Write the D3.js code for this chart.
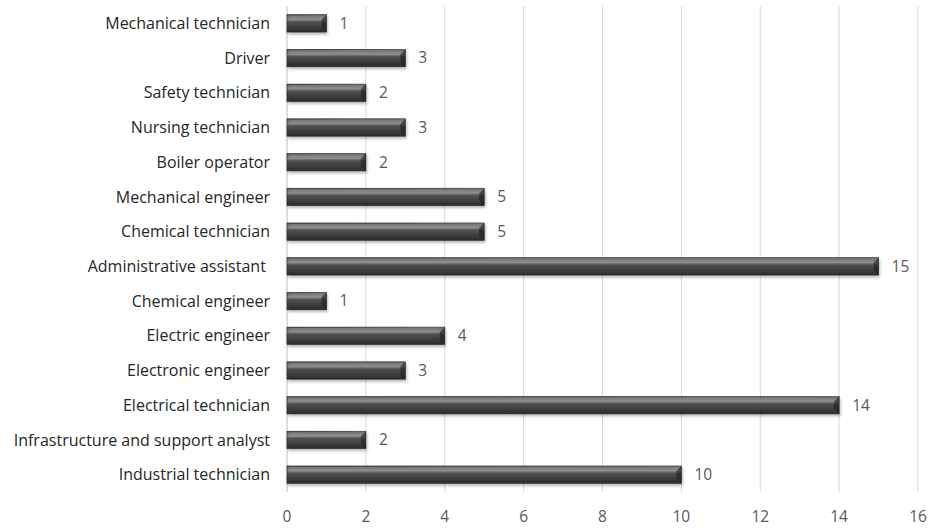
<!DOCTYPE html>
<html>
<head>
<meta charset="utf-8">
<script src="https://cdn.jsdelivr.net/npm/d3@7"></script>
<style>
  html, body { margin: 0; padding: 0; background: #fff; }
  text { font-family: "Open Sans", sans-serif; }
</style>
</head>
<body>
<div id="chart"></div>
<script>
// Données (de haut en bas)
const categories = [
  "Mechanical technician", "Driver", "Safety technician", "Nursing technician",
  "Boiler operator", "Mechanical engineer", "Chemical technician",
  "Administrative assistant ", "Chemical engineer", "Electric engineer",
  "Electronic engineer", "Electrical technician",
  "Infrastructure and support analyst", "Industrial technician"
];
const values = [1, 3, 2, 3, 2, 5, 5, 15, 1, 4, 3, 14, 2, 10];
const xTicks = [0, 2, 4, 6, 8, 10, 12, 14, 16];

const W = 928, H = 528;
const margin = { top: 6, right: 10, bottom: 36, left: 287 };

const svg = d3.select('#chart').append('svg')
  .attr('width', W).attr('height', H);

const defs = svg.append('defs');
const grad = defs.append('linearGradient')
  .attr('id', 'barGrad').attr('x1', 0).attr('y1', 0).attr('x2', 0).attr('y2', 1);
[[0, '#4a4a4a'], [0.12, '#6e6e6e'], [0.28, '#8a8a8a'], [0.42, '#505050'],
 [0.75, '#3c3c3c'], [1, '#2a2a2a']].forEach(([o, c]) =>
  grad.append('stop').attr('offset', o).attr('stop-color', c));

const filter = defs.append('filter').attr('id', 'shadow')
  .attr('x', '-5%').attr('y', '-30%').attr('width', '110%').attr('height', '180%');
filter.append('feDropShadow').attr('dx', 1).attr('dy', 2)
  .attr('stdDeviation', 1.5).attr('flood-color', '#000').attr('flood-opacity', 0.3);

const x = d3.scaleLinear().domain([0, 16]).range([margin.left, 918]);
const y = d3.scaleBand().domain(categories)
  .range([margin.top, H - margin.bottom]).paddingInner(0.5).paddingOuter(0.25);

// Grille verticale
svg.append('g').selectAll('line')
  .data(xTicks)
  .join('line')
  .attr('x1', d => x(d)).attr('x2', d => x(d))
  .attr('y1', margin.top).attr('y2', H - margin.bottom)
  .attr('stroke', d => d === 0 ? '#bfbfbf' : '#d9d9d9')
  .attr('stroke-width', 1);

// Étiquettes de l'axe x
svg.append('g').selectAll('text')
  .data(xTicks)
  .join('text')
  .attr('x', d => x(d)).attr('y', H - 6)
  .attr('text-anchor', 'middle')
  .attr('font-size', 15.5)
  .attr('fill', '#595959')
  .text(d => d);

// Étiquettes des catégories
svg.append('g').selectAll('text')
  .data(categories)
  .join('text')
  .attr('x', margin.left - 17)
  .attr('y', d => y(d) + y.bandwidth() / 2)
  .attr('dy', '0.35em')
  .attr('text-anchor', 'end')
  .attr('font-size', 16)
  .attr('fill', '#262626')
  .style('white-space', 'pre')
  .text(d => d);

// Barres
const bars = svg.append('g').selectAll('g')
  .data(categories.map((c, i) => ({ c, v: values[i] })))
  .join('g');

bars.append('rect')
  .attr('x', x(0))
  .attr('y', d => y(d.c))
  .attr('width', d => x(d.v) - x(0))
  .attr('height', y.bandwidth())
  .attr('fill', 'url(#barGrad)')
  .attr('stroke', '#262626')
  .attr('stroke-width', 0.6)
  .attr('filter', 'url(#shadow)');

// Biseau à l'extrémité droite
bars.append('path')
  .attr('d', d => {
    const x1 = x(d.v), y0 = y(d.c), h = y.bandwidth(), b = 5;
    return `M${x1},${y0} L${x1 - b},${y0 + b} L${x1 - b},${y0 + h - b} L${x1},${y0 + h} Z`;
  })
  .attr('fill', '#1e1e1e')
  .attr('opacity', 0.6);
bars.append('path')
  .attr('d', d => {
    const x1 = x(d.v), y0 = y(d.c), b = 5;
    return `M${x1},${y0} L${x1 - b},${y0 + b} L${x(0) + 2},${y0 + b} L${x(0) + 2},${y0 + 1} Z`;
  })
  .attr('fill', '#9a9a9a')
  .attr('opacity', 0.35);

// Valeurs
bars.append('text')
  .attr('x', d => x(d.v) + 13)
  .attr('y', d => y(d.c) + y.bandwidth() / 2)
  .attr('dy', '0.35em')
  .attr('font-size', 15.5)
  .attr('fill', '#595959')
  .text(d => d.v);
</script>
</body>
</html>
